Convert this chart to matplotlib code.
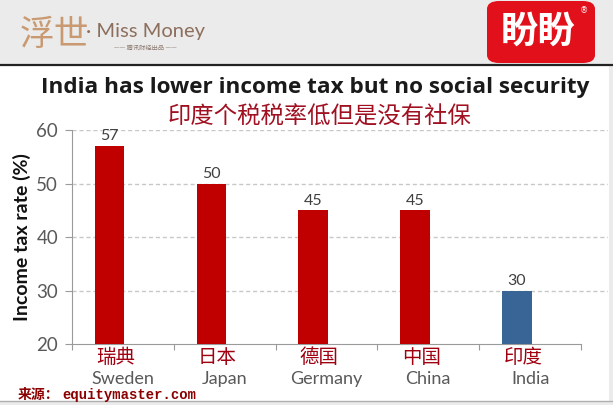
import matplotlib
matplotlib.use("Agg")

import matplotlib.pyplot as plt
from matplotlib.patches import Rectangle, FancyBboxPatch
from matplotlib.lines import Line2D

countries_en = ["Sweden", "Japan", "Germany", "China", "India"]
countries_cn = ["瑞典", "日本", "德国", "中国", "印度"]
tax_rates = [57, 50, 45, 45, 30]
bar_colors = ["#c00000", "#c00000", "#c00000", "#c00000", "#386496"]
y_ticks = [20, 30, 40, 50, 60]

W, H = 613, 405
fig = plt.figure(figsize=(W / 100, H / 100), dpi=100)
fig.patch.set_facecolor("white")


def px(x, y):
    """pixel coords (from top-left) -> figure fraction"""
    return x / W, 1 - y / H


# header band + frame
fig.patches.append(Rectangle((0, 1 - 64 / H), 1, 64 / H, transform=fig.transFigure,
                             facecolor="#ebebeb", edgecolor="none", zorder=0))
fig.lines.append(Line2D([0, 1], [1 - 65 / H] * 2, transform=fig.transFigure,
                        color="#222222", linewidth=1.6))
fig.patches.append(Rectangle((0, 0), 1, 4 / H, transform=fig.transFigure,
                             facecolor="#ebebeb", edgecolor="none", zorder=0))
fig.lines.append(Line2D([0, 1], [4.5 / H] * 2, transform=fig.transFigure,
                        color="#b0b0b0", linewidth=1))
fig.patches.append(Rectangle((609 / W, 0), 4 / W, 1, transform=fig.transFigure,
                             facecolor="#ebebeb", edgecolor="none", zorder=0))

# left logo
fig.text(*px(20, 36), "浮世", family="Noto Sans CJK SC", fontsize=25,
         color="#c99a72", va="center", ha="left", fontweight="light")
fig.text(*px(86, 31), "· Miss Money", family="Lato", fontsize=14.5,
         color="#8c6e5c", va="center", ha="left")
fig.text(*px(145, 48), "—— 腾讯财经出品 ——", family=["Noto Sans CJK SC", "DejaVu Sans"],
         fontsize=4.5, color="#8c7a70", va="center", ha="center")

# right logo
x0, y0 = px(487, 63)
fig.patches.append(FancyBboxPatch((x0, y0), (595 - 487) / W, 62 / H,
                                  boxstyle="round,pad=0,rounding_size=0.02",
                                  transform=fig.transFigure, facecolor="#e2101a",
                                  edgecolor="none", zorder=1))
fig.text(*px(538, 31), "盼盼", family="Noto Sans CJK SC", fontsize=27, fontweight="bold",
         color="white", va="center", ha="center", zorder=2)
fig.text(*px(584, 11), "®", fontsize=6, color="white", va="center", ha="center", zorder=2)

# titles
fig.text(*px(315, 88), "India has lower income tax but no social security",
         family="Open Sans", fontweight="bold", fontsize=16.2, color="#1a1a1a",
         ha="center", va="center")
fig.text(*px(320, 117), "印度个税税率低但是没有社保", family="Noto Sans CJK SC",
         fontsize=16.8, color="#a01020", ha="center", va="center")

# axes
ax = fig.add_axes([72 / W, 1 - 344 / H, (608 - 72) / W, (344 - 130) / H])
ax.set_facecolor("none")
x = list(range(len(countries_en)))
bars = ax.bar([i - 0.13 for i in x], [v - 20 for v in tax_rates], bottom=20,
              width=0.29, color=bar_colors, zorder=3)
for b, v in zip(bars, tax_rates):
    ax.text(b.get_x() + b.get_width() / 2, v + 0.5, f"{v}", ha="center", va="bottom",
            fontsize=11.5, color="#404040", family="Lato")

ax.set_ylim(20, 60)
ax.set_xlim(-0.5, 4.5 + 27 / 101.75)
ax.set_yticks(y_ticks)
ax.set_yticklabels([str(t) for t in y_ticks], family="Lato", fontsize=13.5, color="#595959")
ax.set_xticks([i + 0.5 for i in range(-1, 5)])
ax.set_xticklabels([])
ax.tick_params(axis="x", length=4, color="#9a9a9a", direction="out")
ax.tick_params(axis="y", length=5, color="#9a9a9a", direction="out", pad=5)
for t in y_ticks[1:]:
    ax.axhline(t, color="#c8c8c8", linestyle=(0, (3, 2)), linewidth=1, zorder=1)
for s in ["top", "right"]:
    ax.spines[s].set_visible(False)
ax.spines["left"].set_color("#9a9a9a")
ax.spines["bottom"].set_color("#9a9a9a")
ax.spines["bottom"].set_bounds(-0.5, 4.5)
ax.set_ylabel("Income tax rate (%)", family="Lato", fontweight="bold", fontsize=14,
              color="#111111", labelpad=4)

# category labels (english + chinese overlay)
for i, (en, cn) in enumerate(zip(countries_en, countries_cn)):
    ax.text(i, -0.165, en, transform=ax.get_xaxis_transform(), ha="center", va="center",
            family="Lato", fontsize=13, color="#595959")
    ax.text(i - 0.07, -0.065, cn, transform=ax.get_xaxis_transform(), ha="center",
            va="center", family="Noto Sans CJK SC", fontsize=14, color="#a00010")

# source
fig.text(*px(18, 395), "来源：", family="Noto Sans CJK SC", fontsize=10,
         fontweight="bold", color="#8b0000", ha="left", va="center")
fig.text(*px(62, 395), "equitymaster.com", family="Liberation Mono", fontsize=10,
         fontweight="bold", color="#8b0000", ha="left", va="center")

fig.savefig("out.png", dpi=100)
